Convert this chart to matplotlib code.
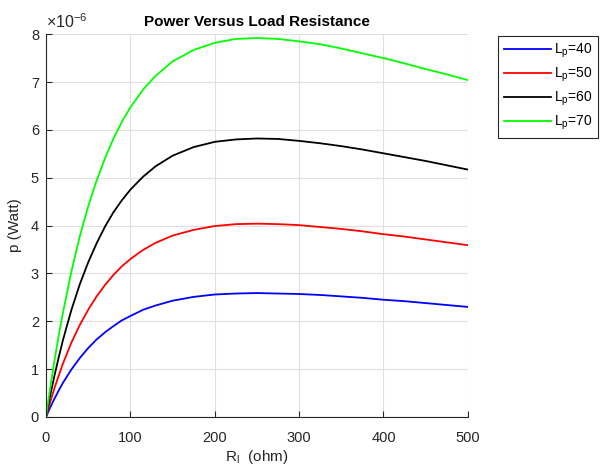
import numpy as np
import matplotlib.pyplot as plt

plt.rcParams['font.family'] = ['Liberation Sans', 'DejaVu Sans']

# load resistance (ohm) and power (x1e-6 W)
r_load = [0, 2, 5, 10, 15, 20, 30, 40, 50, 60, 70, 80, 90, 100, 115, 130, 150, 175, 200, 225,
          250, 275, 300, 325, 350, 375, 400, 425, 450, 475, 500]
p_40 = [0, 0.08, 0.20, 0.38, 0.55, 0.71, 0.99, 1.23, 1.44, 1.62, 1.77, 1.90, 2.02, 2.11, 2.24, 2.33,
        2.43, 2.51, 2.56, 2.58, 2.59, 2.58, 2.57, 2.55, 2.52, 2.49, 2.45, 2.42, 2.38, 2.34, 2.30]
p_50 = [0, 0.13, 0.31, 0.60, 0.86, 1.11, 1.55, 1.92, 2.24, 2.52, 2.76, 2.97, 3.15, 3.30, 3.49, 3.64,
        3.79, 3.91, 3.99, 4.03, 4.04, 4.03, 4.01, 3.97, 3.93, 3.88, 3.82, 3.77, 3.71, 3.65, 3.59]
p_60 = [0, 0.18, 0.45, 0.86, 1.24, 1.60, 2.23, 2.77, 3.23, 3.63, 3.98, 4.28, 4.53, 4.75, 5.02, 5.24,
        5.46, 5.64, 5.75, 5.80, 5.82, 5.81, 5.77, 5.72, 5.66, 5.59, 5.51, 5.43, 5.35, 5.26, 5.17]
p_70 = [0, 0.25, 0.61, 1.17, 1.69, 2.17, 3.03, 3.77, 4.40, 4.94, 5.41, 5.82, 6.17, 6.47, 6.84, 7.13,
        7.43, 7.67, 7.82, 7.90, 7.92, 7.90, 7.85, 7.79, 7.70, 7.60, 7.50, 7.39, 7.27, 7.16, 7.04]
labels = ['L$_\\mathregular{p}$=40', 'L$_\\mathregular{p}$=50', 'L$_\\mathregular{p}$=60', 'L$_\\mathregular{p}$=70']
colors = ['#0000ff', '#ff0000', '#000000', '#00ff00']

fig = plt.figure(figsize=(6.01, 4.68), dpi=100)
ax = fig.add_axes([0.0765, 0.109, 0.702, 0.818])

for p, lab, c in zip([p_40, p_50, p_60, p_70], labels, colors):
    ax.plot(r_load, p, color=c, lw=1.3, label=lab)

ax.set_xlim(0, 500)
ax.set_ylim(0, 8)
ax.set_xticks(range(0, 501, 100))
ax.set_yticks(range(0, 9))
ax.grid(True, color='#e0e0e0', lw=0.8)
ax.set_axisbelow(True)
for s in ['top', 'right']:
    ax.spines[s].set_visible(False)
for s in ['left', 'bottom']:
    ax.spines[s].set_color('#262626')
    ax.spines[s].set_linewidth(0.8)
ax.tick_params(direction='in', length=4, colors='#262626', labelsize=10.5, width=0.8)
ax.tick_params(axis='x', pad=10)
ax.tick_params(axis='y', pad=5)

ax.text(0.0, 1.008, '$\\mathregular{\\times10^{-6}}$', transform=ax.transAxes,
        fontsize=11.5, color='#262626', ha='left', va='bottom')
ax.set_title('Power Versus Load Resistance', fontsize=11, fontweight='bold', pad=6)
ax.set_xlabel('R$_\\mathregular{l}$  (ohm)', fontsize=11, color='#262626', labelpad=2)
ax.set_ylabel('p (Watt)', fontsize=11, color='#262626', labelpad=6)

leg = ax.legend(loc='upper left', bbox_to_anchor=(1.062, 1.006), fontsize=10,
                fancybox=False, edgecolor='#262626', framealpha=1, handlelength=3.4,
                borderpad=0.4, labelspacing=0.42, handletextpad=0.2, borderaxespad=0.3)
leg.get_frame().set_linewidth(0.8)

fig.savefig('out.png', dpi=100)
